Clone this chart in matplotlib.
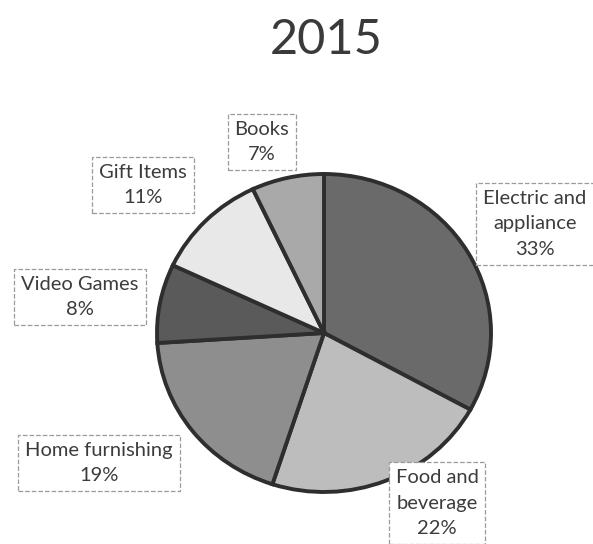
import matplotlib
matplotlib.use('Agg')
import matplotlib.pyplot as plt

# data
categories = ['Electric and\nappliance', 'Food and\nbeverage', 'Home furnishing',
              'Video Games', 'Gift Items', 'Books']
shares = [33, 22, 19, 8, 11, 7]
colors = ['#6a6a6a', '#bdbdbd', '#8e8e8e', '#5a5a5a', '#e8e8e8', '#a9a9a9']

# label centres in pixels (x from left, y from top)
label_pos = [(535, 224), (437, 503), (99, 463), (80, 297), (143, 185), (262, 142)]

W, H = 593, 544
fig = plt.figure(figsize=(W / 100, H / 100), dpi=100)
fig.patch.set_facecolor('white')

# pie area, a bit wider than tall like the scan
left, right, top, bottom = 157, 491, 174, 492
ax = fig.add_axes([left / W, 1 - bottom / H, (right - left) / W, (bottom - top) / H])
ax.pie(shares, colors=colors, startangle=90, counterclock=False,
       wedgeprops=dict(edgecolor='#2e2e2e', linewidth=2.8))
ax.set_aspect('auto')
ax.set_xlim(-1, 1)
ax.set_ylim(-1, 1)
ax.axis('off')

fig.text(326 / W, 1 - 40 / H, '2015', ha='center', va='center',
         fontsize=35, color='#3a3a3a', family='Lato')

for name, val, (px, py) in zip(categories, shares, label_pos):
    fig.text(px / W, 1 - py / H, f'{name}\n{val}%', ha='center', va='center',
             fontsize=14.5, color='#3c3c3c', family='Lato', linespacing=1.6,
             bbox=dict(boxstyle='square,pad=0.35', facecolor='white',
                       edgecolor='#9a9a9a', linestyle='--', linewidth=0.9))

plt.savefig('out.png', dpi=100, facecolor='white')
